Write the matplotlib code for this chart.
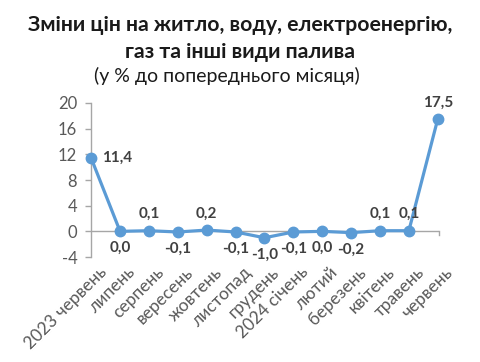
import matplotlib
matplotlib.use("Agg")
import matplotlib.pyplot as plt

months = ["2023 червень", "липень", "серпень", "вересень", "жовтень", "листопад",
          "грудень", "2024 січень", "лютий", "березень", "квітень", "травень", "червень"]
values = [11.4, 0.0, 0.1, -0.1, 0.2, -0.1, -1.0, -0.1, 0.0, -0.2, 0.1, 0.1, 17.5]
labels = ["11,4", "0,0", "0,1", "-0,1", "0,2", "-0,1", "-1,0", "-0,1", "0,0", "-0,2", "0,1", "0,1", "17,5"]
positions = ["right", "below", "above", "below", "above", "below", "below", "below",
             "below", "below", "above", "above", "above"]
yticks = [-4, 0, 4, 8, 12, 16, 20]

plt.rcParams['font.family'] = ['Lato', 'DejaVu Sans']

fig = plt.figure(figsize=(4.8, 3.62), dpi=100)
ax = fig.add_axes([0.19, 0.29, 0.725, 0.4255])

blue = "#5B9BD5"
gray = "#A6A6A6"
x = list(range(len(values)))
ax.plot(x, values, color=blue, lw=2.3, marker='o', ms=7.5, zorder=3, clip_on=False)

ax.set_ylim(-4, 20)
ax.set_xlim(0, 12.05)
ax.set_yticks(yticks)
ax.set_yticklabels([str(t) for t in yticks], fontsize=12, color="#595959")
ax.tick_params(axis='y', length=4, color=gray, width=1, pad=6)

for s in ['top', 'right', 'bottom']:
    ax.spines[s].set_visible(False)
ax.spines['left'].set_color(gray)
ax.spines['left'].set_linewidth(1)
ax.axhline(0, color=gray, lw=1, zorder=1)
ax.plot([12.05, 12.05], [0, -0.5], color=gray, lw=1, clip_on=False)

ax.set_xticks(x)
ax.set_xticklabels([])
ax.tick_params(axis='x', length=0)
for i, m in enumerate(months):
    ax.annotate(m, xy=(i, -4), xycoords='data', xytext=(5, -5), textcoords='offset points',
                rotation=45, rotation_mode='anchor', ha='right', va='top',
                fontsize=12.5, color="#595959", annotation_clip=False)

for i, (v, lab, p) in enumerate(zip(values, labels, positions)):
    if p == "right":
        off, ha, va = (8, 0), 'left', 'center'
    elif p == "above":
        off, ha, va = (0, 7), 'center', 'bottom'
    else:
        off, ha, va = (0, -7), 'center', 'top'
    ax.annotate(lab, xy=(i, v), xytext=off, textcoords='offset points', ha=ha, va=va,
                fontsize=11, fontweight='bold', color="#404040", annotation_clip=False)

fig.text(0.5, 0.93, "Зміни цін на житло, воду, електроенергію,", ha='center', va='center',
         fontsize=15.3, fontweight='bold', color="#1a1a1a")
fig.text(0.5, 0.855, "газ та інші види палива", ha='center', va='center',
         fontsize=15.3, fontweight='bold', color="#1a1a1a")
fig.text(0.472, 0.79, "(у % до попереднього місяця)", ha='center', va='center',
         fontsize=14, color="#1a1a1a")

fig.savefig("out.png", dpi=100)
